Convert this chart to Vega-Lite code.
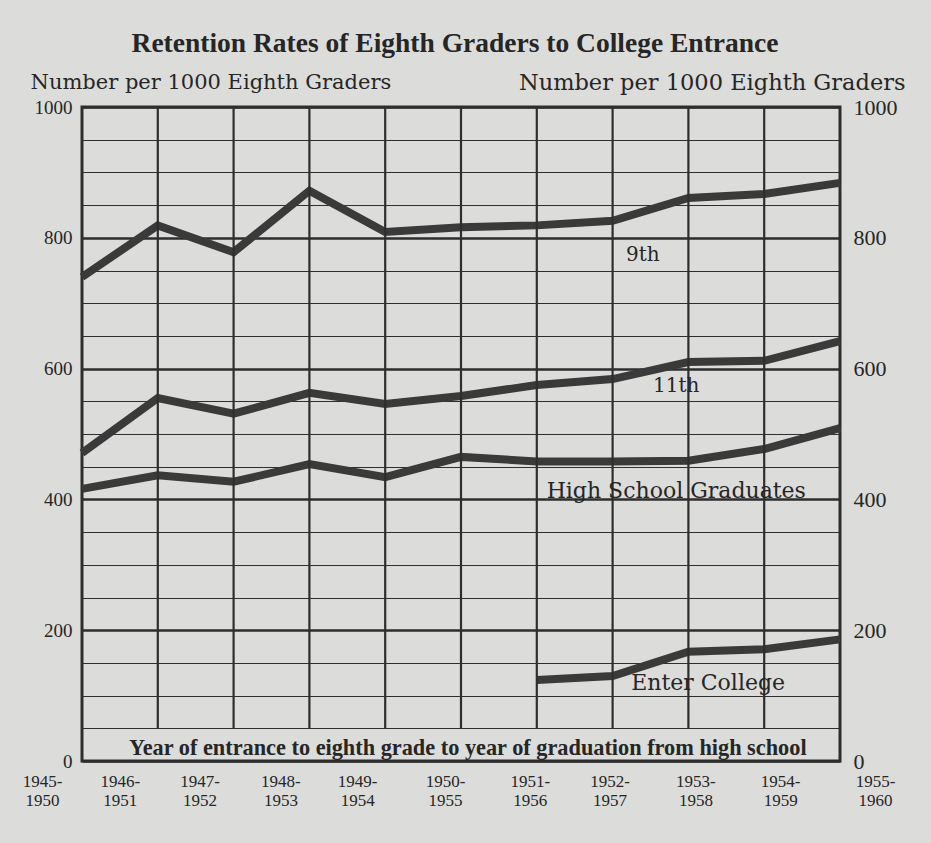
{
  "$schema": "https://vega.github.io/schema/vega-lite/v6.json",
  "width": 758,
  "height": 654,
  "autosize": "none",
  "padding": {"left": 82, "top": 107, "right": 91, "bottom": 82},
  "background": "#dcdcda",
  "config": {
    "view": {"stroke": "#2e2e2e", "strokeWidth": 3},
    "font": "Liberation Serif"
  },
  "title": {
    "text": "Retention Rates of Eighth Graders to College Entrance",
    "font": "Liberation Serif",
    "fontSize": 27.5,
    "fontWeight": "bold",
    "color": "#262626",
    "anchor": "middle",
    "frame": "group",
    "offset": 14,
    "dx": -6
  },
  "datasets": {
    "series": [
      {"year": 1945, "series": "9th", "value": 740},
      {"year": 1946, "series": "9th", "value": 819},
      {"year": 1947, "series": "9th", "value": 778},
      {"year": 1948, "series": "9th", "value": 872},
      {"year": 1949, "series": "9th", "value": 809},
      {"year": 1950, "series": "9th", "value": 816},
      {"year": 1951, "series": "9th", "value": 819},
      {"year": 1952, "series": "9th", "value": 826},
      {"year": 1953, "series": "9th", "value": 861},
      {"year": 1954, "series": "9th", "value": 867},
      {"year": 1955, "series": "9th", "value": 884},
      {"year": 1945, "series": "11th", "value": 471},
      {"year": 1946, "series": "11th", "value": 555},
      {"year": 1947, "series": "11th", "value": 531},
      {"year": 1948, "series": "11th", "value": 563},
      {"year": 1949, "series": "11th", "value": 546},
      {"year": 1950, "series": "11th", "value": 558},
      {"year": 1951, "series": "11th", "value": 575},
      {"year": 1952, "series": "11th", "value": 584},
      {"year": 1953, "series": "11th", "value": 610},
      {"year": 1954, "series": "11th", "value": 612},
      {"year": 1955, "series": "11th", "value": 642},
      {"year": 1945, "series": "High School Graduates", "value": 416},
      {"year": 1946, "series": "High School Graduates", "value": 437},
      {"year": 1947, "series": "High School Graduates", "value": 427},
      {"year": 1948, "series": "High School Graduates", "value": 454},
      {"year": 1949, "series": "High School Graduates", "value": 434},
      {"year": 1950, "series": "High School Graduates", "value": 465},
      {"year": 1951, "series": "High School Graduates", "value": 458},
      {"year": 1952, "series": "High School Graduates", "value": 458},
      {"year": 1953, "series": "High School Graduates", "value": 459},
      {"year": 1954, "series": "High School Graduates", "value": 477},
      {"year": 1955, "series": "High School Graduates", "value": 509},
      {"year": 1951, "series": "Enter College", "value": 124},
      {"year": 1952, "series": "Enter College", "value": 130},
      {"year": 1953, "series": "Enter College", "value": 167},
      {"year": 1954, "series": "Enter College", "value": 171},
      {"year": 1955, "series": "Enter College", "value": 186}
    ],
    "vgrid": [
      {"year": 1946}, {"year": 1947}, {"year": 1948}, {"year": 1949}, {"year": 1950},
      {"year": 1951}, {"year": 1952}, {"year": 1953}, {"year": 1954}
    ],
    "labels": [
      {"text": "9th", "x": 1952.4, "y": 774},
      {"text": "11th", "x": 1952.84, "y": 573},
      {"text": "High School Graduates", "x": 1952.84, "y": 413},
      {"text": "Enter College", "x": 1953.26, "y": 119}
    ]
  },
  "layer": [
    {
      "data": {"name": "series"},
      "mark": {"type": "line", "color": "#3a3a3a", "strokeWidth": 8, "strokeJoin": "miter", "strokeCap": "butt"},
      "encoding": {
        "x": {
          "field": "year", "type": "quantitative",
          "scale": {"domain": [1945, 1955], "nice": false, "zero": false},
          "axis": {
            "values": [1945, 1946, 1947, 1948, 1949, 1950, 1951, 1952, 1953, 1954, 1955],
            "labelExpr": "[datum.value + '-', '' + (datum.value + 5)]",
            "title": null,
            "grid": false,
            "domain": false,
            "ticks": false,
            "labelFont": "Liberation Serif",
            "labelFontSize": 17,
            "labelLineHeight": 19,
            "labelColor": "#262626",
            "labelPadding": 12,
            "labelBaseline": "top",
            "labelFlush": false,
            "labelOverlap": false,
            "labelOffset": {
              "condition": [
                {"test": "datum.value === 1945", "value": -40},
                {"test": "datum.value === 1946", "value": -38},
                {"test": "datum.value === 1947", "value": -34},
                {"test": "datum.value === 1948", "value": -29},
                {"test": "datum.value === 1949", "value": -28},
                {"test": "datum.value === 1950", "value": -16},
                {"test": "datum.value === 1951", "value": -7},
                {"test": "datum.value === 1952", "value": -3},
                {"test": "datum.value === 1953", "value": 7},
                {"test": "datum.value === 1954", "value": 16}
              ],
              "value": 35
            }
          }
        },
        "y": {
          "field": "value", "type": "quantitative",
          "scale": {"domain": [0, 1000], "nice": false},
          "axis": {
            "orient": "left",
            "values": [0, 50, 100, 150, 200, 250, 300, 350, 400, 450, 500, 550, 600, 650, 700, 750, 800, 850, 900, 950, 1000],
            "labelExpr": "datum.value % 200 === 0 ? datum.label : ''",
            "format": "d",
            "domain": false,
            "ticks": false,
            "grid": true,
            "gridColor": "#2e2e2e",
            "gridOpacity": 1,
            "gridWidth": {"condition": {"test": "datum.value % 200 === 0", "value": 2.4}, "value": 1.1},
            "labelFont": "Liberation Serif",
            "labelFontSize": 19,
            "labelColor": "#262626",
            "labelPadding": 10,
            "labelFlush": false,
            "labelOverlap": false,
            "title": "Number per 1000 Eighth Graders",
            "titleFont": "DejaVu Serif",
            "titleFontSize": 21,
            "titleFontWeight": "normal",
            "titleColor": "#262626",
            "titleAngle": 0,
            "titleAlign": "left",
            "titleBaseline": "middle",
            "titleX": -52,
            "titleY": -25
          }
        },
        "detail": {"field": "series", "type": "nominal"}
      }
    },
    {
      "data": {"name": "vgrid"},
      "mark": {"type": "rule", "color": "#2e2e2e", "strokeWidth": 2.2},
      "encoding": {
        "x": {"field": "year", "type": "quantitative"},
        "y": {"datum": 50, "type": "quantitative", "axis": null},
        "y2": {"datum": 1000}
      }
    },
    {
      "data": {"name": "labels"},
      "mark": {"type": "text", "font": "DejaVu Serif", "color": "#262626", "align": "center", "baseline": "middle"},
      "encoding": {
        "x": {"field": "x", "type": "quantitative"},
        "y": {
          "field": "y", "type": "quantitative",
          "axis": {
            "orient": "right",
            "values": [0, 200, 400, 600, 800, 1000],
            "format": "d",
            "domain": false,
            "ticks": false,
            "grid": false,
            "labelFont": "Liberation Serif",
            "labelFontSize": 22,
            "labelColor": "#262626",
            "labelPadding": 13,
            "labelFlush": false,
            "labelOverlap": false,
            "title": "Number per 1000 Eighth Graders",
            "titleFont": "DejaVu Serif",
            "titleFontSize": 22.5,
            "titleFontWeight": "normal",
            "titleColor": "#262626",
            "titleAngle": 0,
            "titleAlign": "right",
            "titleBaseline": "middle",
            "titleX": 65,
            "titleY": -25
          }
        },
        "text": {"field": "text", "type": "nominal"},
        "size": {"condition": {"test": "length(datum.text) > 5", "value": 22}, "value": 20}
      }
    },
    {
      "data": {"values": [{"text": "Year of entrance to eighth grade to year of graduation from high school", "x": 1950.09, "y": 20}]},
      "mark": {"type": "text", "font": "Liberation Serif", "fontSize": 22.3, "fontWeight": "bold", "color": "#262626", "align": "center", "baseline": "middle"},
      "encoding": {
        "x": {"field": "x", "type": "quantitative"},
        "y": {"field": "y", "type": "quantitative", "axis": null},
        "text": {"field": "text", "type": "nominal"}
      }
    }
  ],
  "resolve": {"scale": {"y": "shared", "x": "shared"}, "axis": {"y": "independent"}}
}
